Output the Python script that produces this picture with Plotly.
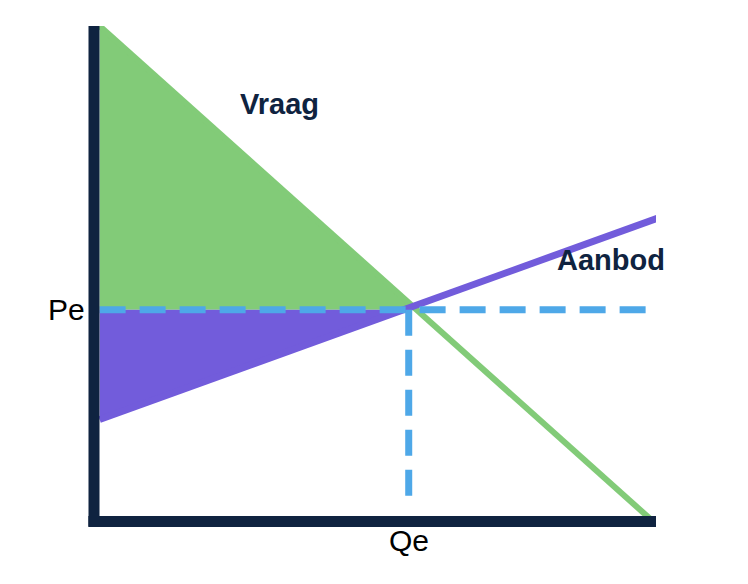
import plotly.graph_objects as go

demand_x = [0.1, 9.9]
demand_y = [10.0, 0.1]
supply_x = [0.1, 10.05]
supply_y = [2.1, 6.15]
Pe = 4.3
Qe = 5.6

green = "#82CB78"
purple = "#725CDB"
blue = "#4EA8E8"
navy = "#0F2340"

# x on demand/supply lines at Pe, so the fills meet the lines
dx = demand_x[0] + (demand_y[0] - Pe) / (demand_y[0] - demand_y[1]) * (demand_x[1] - demand_x[0])
sx = supply_x[0] + (Pe - supply_y[0]) / (supply_y[1] - supply_y[0]) * (supply_x[1] - supply_x[0])

fig = go.Figure()
fig.add_trace(go.Scatter(x=[demand_x[0], demand_x[0], dx, demand_x[0]], y=[demand_y[0], Pe, Pe, demand_y[0]],
                         fill="toself", fillcolor=green, line=dict(width=0), mode="lines", hoverinfo="skip"))
fig.add_trace(go.Scatter(x=[supply_x[0], supply_x[0], sx, supply_x[0]], y=[Pe, supply_y[0], Pe, Pe],
                         fill="toself", fillcolor=purple, line=dict(width=0), mode="lines", hoverinfo="skip"))
fig.add_trace(go.Scatter(x=demand_x, y=demand_y, mode="lines", line=dict(color=green, width=6)))
fig.add_trace(go.Scatter(x=supply_x, y=supply_y, mode="lines", line=dict(color=purple, width=7)))
fig.add_trace(go.Scatter(x=[0.1, 9.9], y=[Pe, Pe], mode="lines", line=dict(color=blue, width=7, dash="26px,14px")))
fig.add_trace(go.Scatter(x=[Qe, Qe], y=[Pe, 0.3], mode="lines", line=dict(color=blue, width=7, dash="26px,14px")))

fig.add_shape(type="line", xref="paper", yref="paper", x0=0, x1=0, y0=-0.005, y1=1, line=dict(color=navy, width=11))
fig.add_shape(type="line", xref="paper", yref="paper", x0=-0.01, x1=1, y0=0.005, y1=0.005, line=dict(color=navy, width=11))

fig.add_annotation(x=0.256, y=0.88, text="<b>Vraag</b>", showarrow=False, font=dict(size=29, color=navy))
fig.add_annotation(x=1.02, y=0.53, text="<b>Aanbod</b>", showarrow=False, font=dict(size=29, color=navy))
fig.add_annotation(x=-0.085, y=Pe / 10, text="Pe", showarrow=False, font=dict(size=30, color="black"))
fig.add_annotation(x=Qe / 10, y=-0.07, text="Qe", showarrow=False, font=dict(size=30, color="black"))
fig.update_annotations(xref="paper", yref="paper")

fig.update_layout(width=748, height=584, margin=dict(l=86, r=100, t=18, b=68),
                  plot_bgcolor="white", paper_bgcolor="white", showlegend=False,
                  font=dict(family="Liberation Sans, Arial"))
fig.update_xaxes(range=[0, 10], visible=False)
fig.update_yaxes(range=[0, 10], visible=False)
fig.write_html("out.html")
